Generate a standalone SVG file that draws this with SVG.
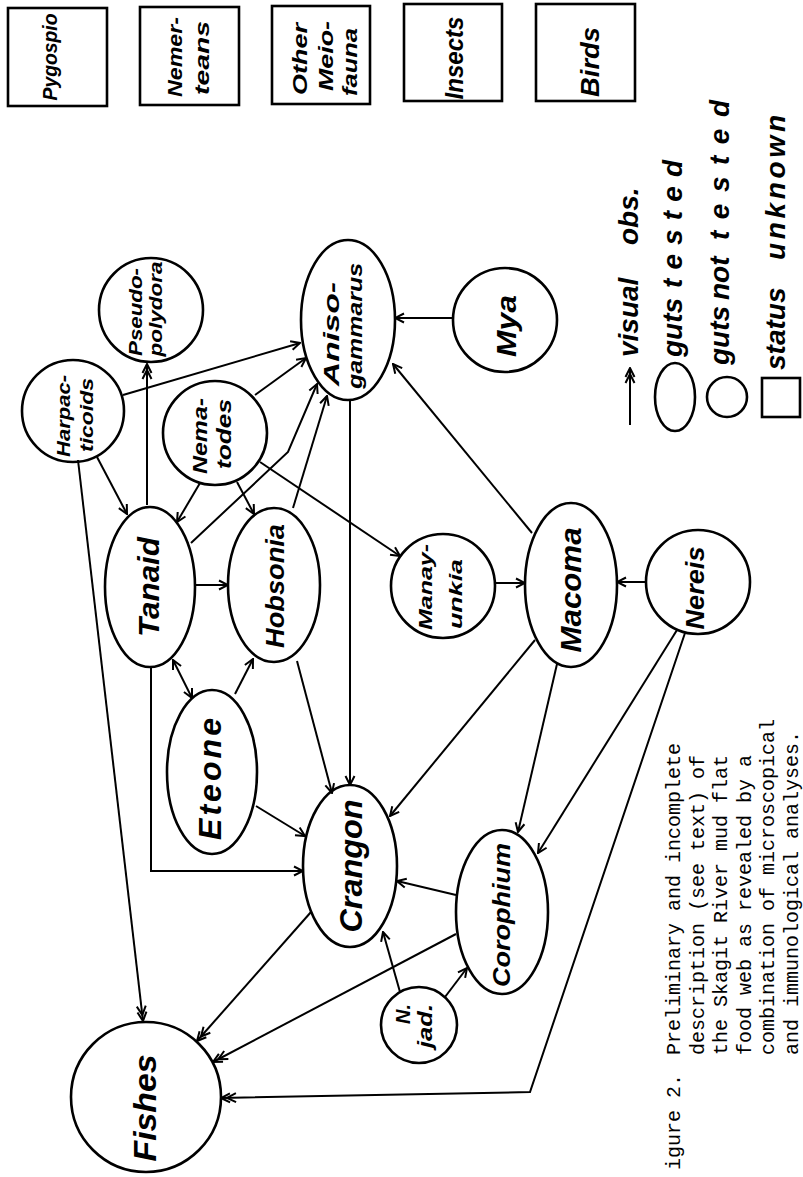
<svg xmlns="http://www.w3.org/2000/svg" width="803" height="1177" viewBox="0 0 803 1177">
<defs>
<style>
.n{fill:none;stroke:#000;stroke-width:2.6}
.c{fill:none;stroke:#000;stroke-width:2}
.h{font-family:'Liberation Sans',Arial,sans-serif;font-style:italic;font-weight:bold;fill:#000}
.m{font-family:'Liberation Mono','Courier New',monospace;font-size:20px;fill:#000}
</style>
<marker id="a1" viewBox="0 0 12 12" refX="11" refY="6" markerWidth="12" markerHeight="12" markerUnits="userSpaceOnUse" orient="auto-start-reverse">
<path d="M2,1.5 L11,6 L2,10.5" fill="none" stroke="#000" stroke-width="2"/>
</marker>
<marker id="a2" viewBox="0 0 18 12" refX="17" refY="6" markerWidth="18" markerHeight="12" markerUnits="userSpaceOnUse" orient="auto-start-reverse">
<path d="M8,1.5 L17,6 L8,10.5 M2,1.5 L11,6 L2,10.5" fill="none" stroke="#000" stroke-width="2"/>
</marker>
</defs>
<rect width="803" height="1177" fill="#fff"/>

<g id="connectors" class="c">
<path d="M147,505 L147,364" marker-end="url(#a2)"/>
<path d="M123,395 L300,343" marker-end="url(#a1)"/>
<path d="M255,395 L306,358" marker-end="url(#a1)"/>
<path d="M191,543 L288,452 L317,384" marker-end="url(#a1)"/>
<path d="M293,508 L327,396" marker-end="url(#a1)"/>
<path d="M200,483 L177,522" marker-end="url(#a1)"/>
<path d="M237,482 L254,514" marker-end="url(#a1)"/>
<path d="M260,462 L400,556" marker-end="url(#a1)"/>
<path d="M97,457 L127,514" marker-end="url(#a1)"/>
<path d="M78,460 L143,1021" marker-end="url(#a2)"/>
<path d="M195,585 L228,585" marker-end="url(#a1)"/>
<path d="M173,660 L192,698" marker-start="url(#a1)" marker-end="url(#a1)"/>
<path d="M235,694 L253,659" marker-end="url(#a1)"/>
<path d="M151,667 L151,871 L303,871" marker-end="url(#a1)"/>
<path d="M256,806 L305,836" marker-end="url(#a1)"/>
<path d="M297,661 L332,793" marker-end="url(#a1)"/>
<path d="M350,400 L350,785" marker-end="url(#a1)"/>
<path d="M535,640 L390,816" marker-end="url(#a1)"/>
<path d="M557,664 L518,832" marker-end="url(#a1)"/>
<path d="M532,533 L393,364" marker-end="url(#a1)"/>
<path d="M453,318 L395,318" marker-end="url(#a1)"/>
<path d="M495,583 L525,583" marker-end="url(#a1)"/>
<path d="M646,582 L617,582" marker-end="url(#a1)"/>
<path d="M677,630 L538,853" marker-end="url(#a1)"/>
<path d="M685,633 L530,1092 L221,1098" marker-end="url(#a2)"/>
<path d="M456,895 L397,881" marker-end="url(#a1)"/>
<path d="M456,934 L213,1062" marker-end="url(#a2)"/>
<path d="M311,912 L197,1041" marker-end="url(#a2)"/>
<path d="M400,992 L383,932" marker-end="url(#a1)"/>
<path d="M445,997 L467,968" marker-end="url(#a1)"/>
</g>

<g id="pygospio"><rect class="n" x="8" y="8" width="99" height="98"/>
<text class="h" font-size="21" text-anchor="middle" textLength="87" lengthAdjust="spacingAndGlyphs" transform="translate(57,57) rotate(-90)">Pygospio</text></g>
<g id="nemerteans"><rect class="n" x="140" y="7" width="99" height="98"/>
<text class="h" font-size="20" text-anchor="middle" textLength="80" lengthAdjust="spacingAndGlyphs" transform="translate(182,57) rotate(-90)">Nemer-</text>
<text class="h" font-size="20" text-anchor="middle" textLength="74" lengthAdjust="spacingAndGlyphs" transform="translate(209,58) rotate(-90)">teans</text></g>
<g id="meiofauna"><rect class="n" x="272" y="6" width="98" height="98"/>
<text class="h" font-size="20" text-anchor="middle" textLength="72" lengthAdjust="spacingAndGlyphs" transform="translate(307,59) rotate(-90)">Other</text>
<text class="h" font-size="20" text-anchor="middle" textLength="70" lengthAdjust="spacingAndGlyphs" transform="translate(333,56) rotate(-90)">Meio-</text>
<text class="h" font-size="20" text-anchor="middle" textLength="68" lengthAdjust="spacingAndGlyphs" transform="translate(357,62) rotate(-90)">fauna</text></g>
<g id="insects"><rect class="n" x="404" y="4" width="98" height="97"/>
<text class="h" font-size="25" text-anchor="middle" textLength="83" lengthAdjust="spacingAndGlyphs" transform="translate(463,58) rotate(-90)">Insects</text></g>
<g id="birds"><rect class="n" x="536" y="4" width="99" height="97"/>
<text class="h" font-size="26" text-anchor="middle" textLength="70" lengthAdjust="spacingAndGlyphs" transform="translate(599,62) rotate(-90)">Birds</text></g>

<g id="pseudopolydora"><circle class="n" cx="151" cy="310" r="52"/>
<text class="h" font-size="18" text-anchor="middle" textLength="88" lengthAdjust="spacingAndGlyphs" transform="translate(142,312) rotate(-90)">Pseudo-</text>
<text class="h" font-size="18" text-anchor="middle" textLength="95" lengthAdjust="spacingAndGlyphs" transform="translate(162,309) rotate(-90)">polydora</text></g>
<g id="anisogammarus"><ellipse class="n" cx="348" cy="320" rx="47" ry="80"/>
<text class="h" font-size="22" text-anchor="middle" textLength="104" lengthAdjust="spacingAndGlyphs" transform="translate(339,334) rotate(-90)">Aniso-</text>
<text class="h" font-size="21" text-anchor="middle" textLength="126" lengthAdjust="spacingAndGlyphs" transform="translate(362,326) rotate(-90)">gammarus</text></g>
<g id="mya"><circle class="n" cx="505" cy="320" r="52"/>
<text class="h" font-size="28" text-anchor="middle" textLength="62" lengthAdjust="spacingAndGlyphs" transform="translate(516,326) rotate(-90)">Mya</text></g>
<g id="harpacticoids"><circle class="n" cx="73" cy="411" r="51"/>
<text class="h" font-size="19" text-anchor="middle" textLength="82" lengthAdjust="spacingAndGlyphs" transform="translate(70,416) rotate(-90)">Harpac-</text>
<text class="h" font-size="19" text-anchor="middle" textLength="74" lengthAdjust="spacingAndGlyphs" transform="translate(93,415) rotate(-90)">ticoids</text></g>
<g id="nematodes"><circle class="n" cx="215" cy="433" r="52"/>
<text class="h" font-size="21" text-anchor="middle" textLength="76" lengthAdjust="spacingAndGlyphs" transform="translate(207,436) rotate(-90)">Nema-</text>
<text class="h" font-size="21" text-anchor="middle" textLength="70" lengthAdjust="spacingAndGlyphs" transform="translate(231,434) rotate(-90)">todes</text></g>
<g id="tanaid"><ellipse class="n" cx="150" cy="587" rx="45" ry="80"/>
<text class="h" font-size="29" text-anchor="middle" textLength="100" lengthAdjust="spacingAndGlyphs" transform="translate(159,587) rotate(-90)">Tanaid</text></g>
<g id="hobsonia"><ellipse class="n" cx="274" cy="585" rx="46" ry="77"/>
<text class="h" font-size="26" text-anchor="middle" textLength="124" lengthAdjust="spacingAndGlyphs" transform="translate(284,586) rotate(-90)">Hobsonia</text></g>
<g id="manayunkia"><circle class="n" cx="443" cy="586" r="52"/>
<text class="h" font-size="19" text-anchor="middle" textLength="86" lengthAdjust="spacingAndGlyphs" transform="translate(432,587) rotate(-90)">Manay-</text>
<text class="h" font-size="19" text-anchor="middle" textLength="70" lengthAdjust="spacingAndGlyphs" transform="translate(462,594) rotate(-90)">unkia</text></g>
<g id="macoma"><ellipse class="n" cx="571" cy="585" rx="46" ry="82"/>
<text class="h" font-size="30" text-anchor="middle" textLength="125" lengthAdjust="spacingAndGlyphs" transform="translate(581,590) rotate(-90)">Macoma</text></g>
<g id="nereis"><circle class="n" cx="698" cy="582" r="52"/>
<text class="h" font-size="26" text-anchor="middle" textLength="83" lengthAdjust="spacingAndGlyphs" transform="translate(704,588) rotate(-90)">Nereis</text></g>
<g id="eteone"><ellipse class="n" cx="212" cy="772" rx="45" ry="82"/>
<text class="h" font-size="32" text-anchor="middle" textLength="122" transform="translate(221,779) rotate(-90)">Eteone</text></g>
<g id="crangon"><ellipse class="n" cx="350" cy="866" rx="47" ry="81"/>
<text class="h" font-size="31" text-anchor="middle" textLength="133" lengthAdjust="spacingAndGlyphs" transform="translate(362,866) rotate(-90)">Crangon</text></g>
<g id="corophium"><ellipse class="n" cx="502" cy="912" rx="46" ry="82"/>
<text class="h" font-size="24" text-anchor="middle" textLength="144" lengthAdjust="spacingAndGlyphs" transform="translate(510,915) rotate(-90)">Corophium</text></g>
<g id="njad"><circle class="n" cx="419" cy="1025" r="38"/>
<text class="h" font-size="20" text-anchor="middle" transform="translate(410,1014) rotate(-90)">N.</text>
<text class="h" font-size="20" text-anchor="middle" textLength="44" lengthAdjust="spacingAndGlyphs" transform="translate(432,1026) rotate(-90)">jad.</text></g>
<g id="fishes"><circle class="n" cx="146" cy="1097" r="75"/>
<text class="h" font-size="32" text-anchor="middle" textLength="107" lengthAdjust="spacingAndGlyphs" transform="translate(156,1108) rotate(-90)">Fishes</text></g>

<g id="legend">
<path class="c" d="M630,425 L630,368" marker-end="url(#a2)"/>
<text class="h" font-size="28" transform="translate(638,357) rotate(-90)">visual</text>
<text class="h" font-size="28" transform="translate(638,245) rotate(-90)">obs.</text>
<ellipse class="n" cx="675" cy="397" rx="20" ry="34"/>
<text class="h" font-size="28" transform="translate(682,357) rotate(-90)">guts</text>
<text class="h" font-size="28" textLength="128" transform="translate(682,288) rotate(-90)">tested</text>
<circle class="n" cx="727" cy="397" r="20"/>
<text class="h" font-size="28" transform="translate(729,365) rotate(-90)">guts</text>
<text class="h" font-size="28" transform="translate(729,300) rotate(-90)">not</text>
<text class="h" font-size="28" textLength="140" transform="translate(729,240) rotate(-90)">tested</text>
<rect class="n" x="762" y="378" width="38" height="39"/>
<text class="h" font-size="28" transform="translate(785,370) rotate(-90)">status</text>
<text class="h" font-size="28" textLength="145" transform="translate(785,260) rotate(-90)">unknown</text>
</g>

<g id="caption">
<text class="m" transform="translate(680,1170) rotate(-90)">igure 2.</text>
<text class="m" transform="translate(680,1055) rotate(-90)">Preliminary and incomplete</text>
<text class="m" transform="translate(703.5,1055) rotate(-90)">description (see text) of</text>
<text class="m" transform="translate(727,1055) rotate(-90)">the Skagit River mud flat</text>
<text class="m" transform="translate(750.5,1055) rotate(-90)">food web as revealed by a</text>
<text class="m" transform="translate(774,1055) rotate(-90)">combination of microscopical</text>
<text class="m" transform="translate(797.5,1055) rotate(-90)">and immunological analyses.</text>
</g>
</svg>
